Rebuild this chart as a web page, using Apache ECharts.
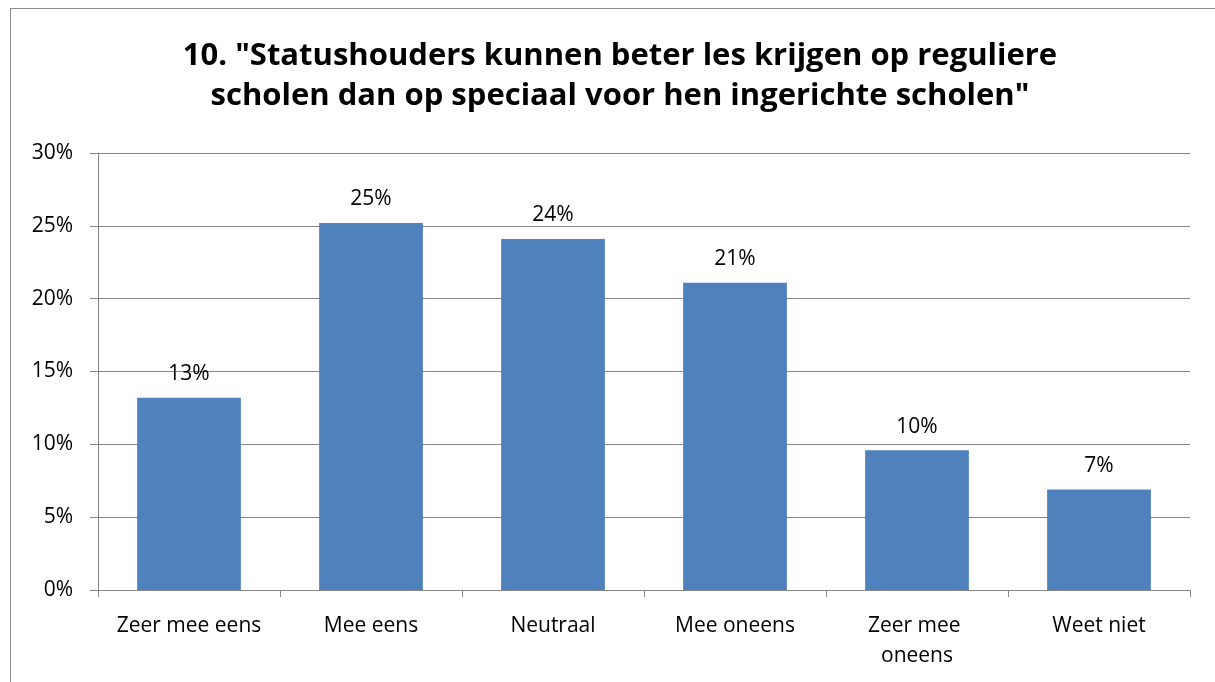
<!DOCTYPE html>
<html>
<head>
<meta charset="utf-8">
<script src="https://cdn.jsdelivr.net/npm/echarts@6/dist/echarts.min.js"></script>
<style>
  html, body { margin: 0; padding: 0; background: #fff; }
  #frame {
    position: absolute; left: 10px; top: 8px; width: 1220px; height: 700px;
    border: 1px solid #8c8c8c; box-sizing: border-box;
  }
  #chart { position: absolute; left: 0; top: 0; width: 1215px; height: 682px; }
</style>
</head>
<body>
<div id="frame"></div>
<div id="chart"></div>
<script>
// antwoordcategorieen en percentages
const categories = ['Zeer mee eens', 'Mee eens', 'Neutraal', 'Mee oneens', 'Zeer mee oneens', 'Weet niet']
const values = [13.2, 25.2, 24.1, 21.1, 9.6, 6.9]
const titleLines = ['10. "Statushouders kunnen beter les krijgen op reguliere', 'scholen dan op speciaal voor hen ingerichte scholen"']

const font = 'Open Sans'
const chart = echarts.init(document.getElementById('chart'))

chart.setOption({
  animation: false,
  title: {
    text: titleLines.join('\n'),
    left: 615,
    textAlign: 'center',
    top: 31,
    textStyle: {
      fontFamily: font,
      fontWeight: 'bold',
      fontSize: 31,
      lineHeight: 40,
      color: '#000'
    }
  },
  grid: {
    left: 98,
    right: 25,
    top: 153,
    bottom: 92,
    containLabel: false
  },
  xAxis: {
    type: 'category',
    data: categories,
    boundaryGap: true,
    axisLine: { lineStyle: { color: '#868686', width: 1 } },
    axisTick: { show: true, length: 7, lineStyle: { color: '#868686' } },
    axisLabel: {
      color: '#000',
      fontFamily: font,
      fontSize: 21,
      lineHeight: 30,
      margin: 21,
      interval: 0,
      width: 170,
      overflow: 'break'
    }
  },
  yAxis: {
    type: 'value',
    min: 0,
    max: 30,
    interval: 5,
    axisLine: { show: true, lineStyle: { color: '#868686', width: 1 } },
    axisTick: { show: true, length: 8, lineStyle: { color: '#868686' } },
    splitLine: { lineStyle: { color: '#868686', width: 1 } },
    axisLabel: {
      color: '#000',
      fontFamily: font,
      fontSize: 21,
      margin: 25,
      formatter: v => v + '%'
    }
  },
  series: [{
    type: 'bar',
    data: values,
    barWidth: '57%',
    itemStyle: { color: '#4F81BD' },
    label: {
      show: true,
      position: 'top',
      distance: 13,
      color: '#000',
      fontFamily: font,
      fontSize: 21,
      formatter: p => Math.round(p.value) + '%'
    }
  }]
})
</script>
</body>
</html>
